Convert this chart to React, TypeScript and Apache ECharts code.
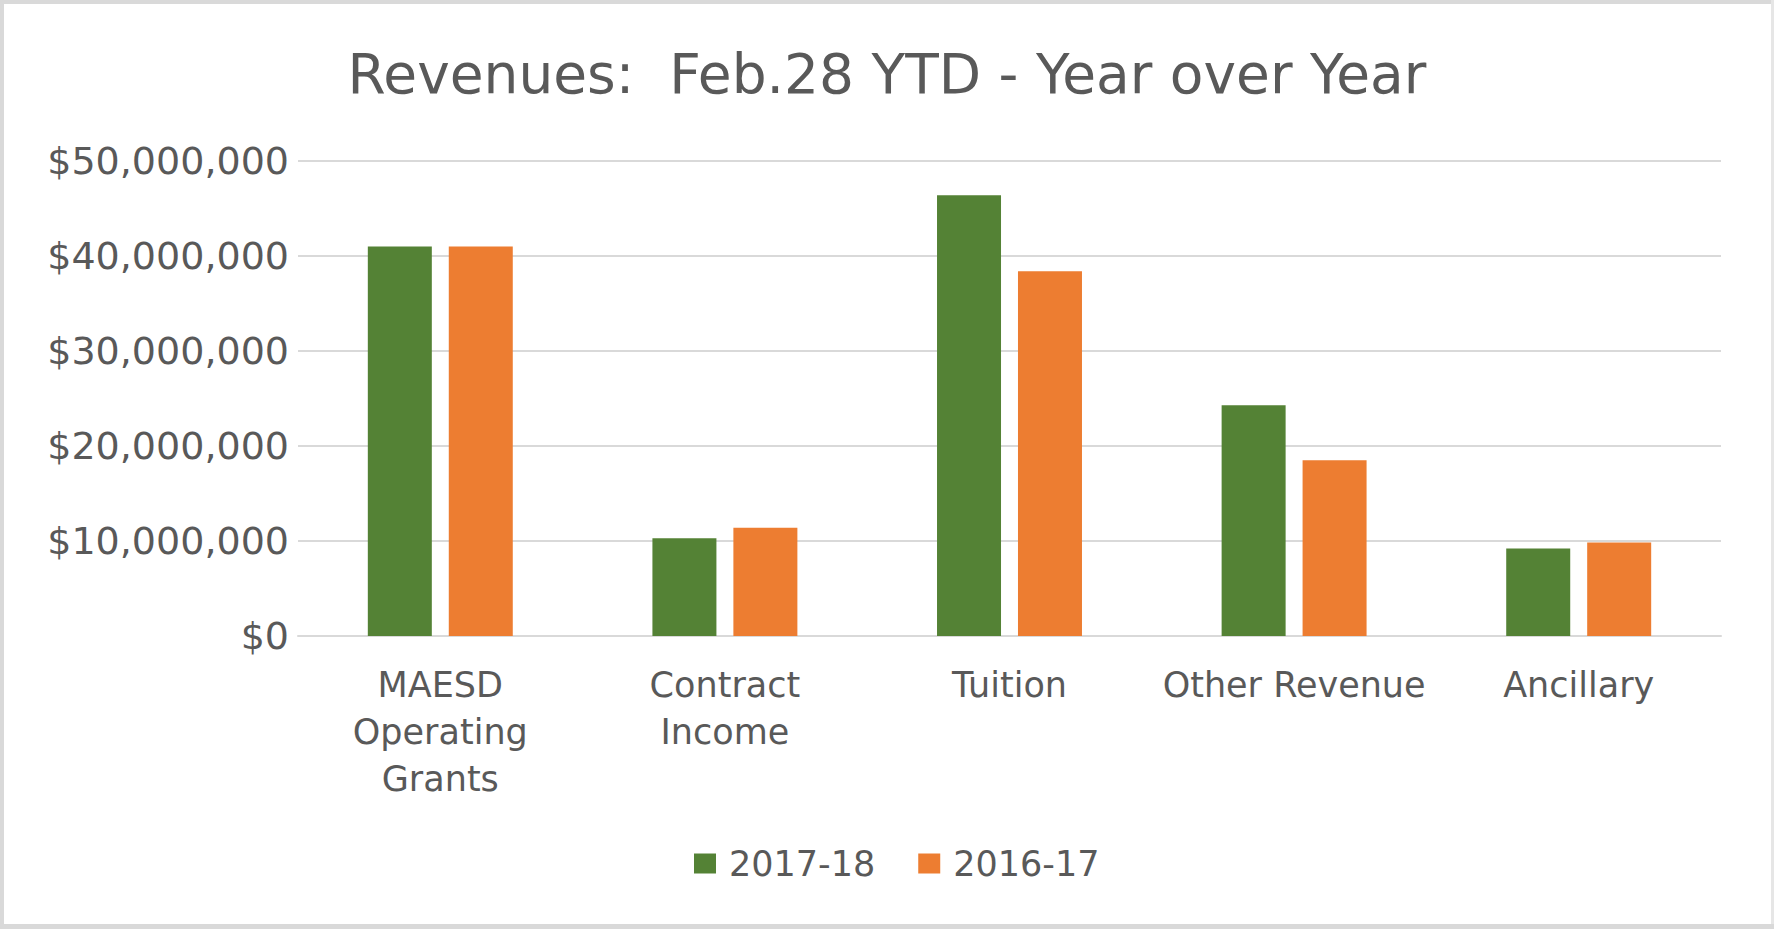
import React, { useEffect, useRef } from "react";
import * as echarts from "echarts";

const categories = ["MAESD\nOperating\nGrants", "Contract\nIncome", "Tuition", "Other Revenue", "Ancillary"];
const series2017 = [41000000, 10300000, 46400000, 24300000, 9200000];
const series2016 = [41000000, 11400000, 38400000, 18500000, 9850000];
const seriesNames = ["2017-18", "2016-17"];
const yTicks = { min: 0, max: 50000000, interval: 10000000 };

const FONT = "DejaVu Sans";
const TEXT = "#595959";

export default function App() {
  const ref = useRef<HTMLDivElement>(null);
  useEffect(() => {
    if (!ref.current) return;
    const chart = echarts.init(ref.current, null, { renderer: "svg" });
    chart.setOption({
      animation: false,
      backgroundColor: "#ffffff",
      title: {
        text: "Revenues:  Feb.28 YTD - Year over Year",
        left: "center",
        top: 41,
        textStyle: { fontFamily: FONT, fontSize: 55, fontWeight: "normal", color: TEXT },
      },
      legend: {
        left: 689,
        top: 841,
        itemWidth: 22,
        itemHeight: 20,
        itemGap: 43,
        icon: "rect",
        textStyle: { fontFamily: FONT, fontSize: 35, color: TEXT, padding: [0, 0, 0, 8] },
        data: seriesNames,
      },
      grid: { left: 298, right: 53, top: 161, bottom: 293, containLabel: false },
      xAxis: {
        type: "category",
        data: categories,
        axisLine: { show: true, lineStyle: { color: "#D9D9D9", width: 2 } },
        axisTick: { show: false },
        axisLabel: {
          interval: 0,
          fontFamily: FONT,
          fontSize: 35,
          color: TEXT,
          lineHeight: 47,
          margin: 25,
        },
      },
      yAxis: {
        type: "value",
        min: yTicks.min,
        max: yTicks.max,
        interval: yTicks.interval,
        axisLine: { show: false },
        axisTick: { show: false },
        splitLine: { lineStyle: { color: "#D9D9D9", width: 2 } },
        axisLabel: {
          fontFamily: FONT,
          fontSize: 38,
          color: TEXT,
          margin: 9,
          formatter: (v: number) => "$" + v.toLocaleString("en-US"),
        },
      },
      series: [
        {
          name: seriesNames[0],
          type: "bar",
          data: series2017,
          barWidth: 64,
          barGap: "26.5%",
          itemStyle: { color: "#548235" },
        },
        {
          name: seriesNames[1],
          type: "bar",
          data: series2016,
          barWidth: 64,
          itemStyle: { color: "#ED7D31" },
        },
      ],
      graphic: [
        { type: "rect", shape: { x: 0, y: 0, width: 1774, height: 4 }, style: { fill: "#D9D9D9" } },
        { type: "rect", shape: { x: 0, y: 0, width: 4, height: 929 }, style: { fill: "#D9D9D9" } },
        { type: "rect", shape: { x: 1771, y: 0, width: 3, height: 929 }, style: { fill: "#E6E6E6" } },
        { type: "rect", shape: { x: 0, y: 924, width: 1774, height: 5 }, style: { fill: "#D9D9D9" } },
      ],
    });
    return () => chart.dispose();
  }, []);
  return (
    <div
      ref={ref}
      style={{ position: "fixed", left: 0, top: 0, width: 1774, height: 929 }}
    />
  );
}
